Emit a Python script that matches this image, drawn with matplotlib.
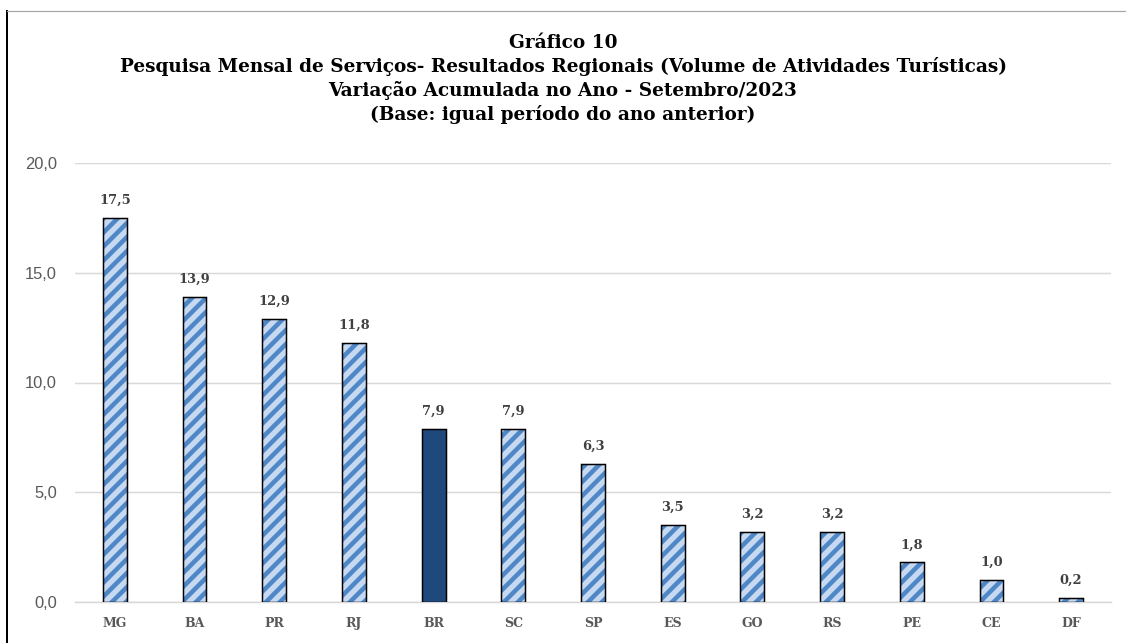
import matplotlib
matplotlib.use("Agg")
import matplotlib.pyplot as plt
from matplotlib.lines import Line2D

# dados do grafico
estados = ["MG", "BA", "PR", "RJ", "BR", "SC", "SP", "ES", "GO", "RS", "PE", "CE", "DF"]
variacao = [17.5, 13.9, 12.9, 11.8, 7.9, 7.9, 6.3, 3.5, 3.2, 3.2, 1.8, 1.0, 0.2]
yticks = [0, 5, 10, 15, 20]

titulo = ("Gráfico 10\n"
          "Pesquisa Mensal de Serviços- Resultados Regionais (Volume de Atividades Turísticas)\n"
          "Variação Acumulada no Ano - Setembro/2023\n"
          "(Base: igual período do ano anterior)")

# dpi 84 para deixar as listras com ~14 px; tamanhos abaixo em pixels
DPI = 84
px = 72 / DPI

plt.rcParams["hatch.linewidth"] = 4.5 * px
serif = ["DejaVu Serif"]

fig = plt.figure(figsize=(1126 / DPI, 643 / DPI), dpi=DPI)
ax = fig.add_axes([75 / 1126, 1 - 602 / 643, 1036 / 1126, 439 / 643])

x = list(range(len(estados)))
for i, (e, v) in enumerate(zip(estados, variacao)):
	if e == "BR":
		ax.bar(i, v, width=0.3, color="#1f497d", edgecolor="black", linewidth=1.5 * px, zorder=3)
	else:
		ax.bar(i, v, width=0.3, color="#c6d9f1", edgecolor="#4f86c6", hatch="//", linewidth=0, zorder=3)
		ax.bar(i, v, width=0.3, fill=False, edgecolor="black", linewidth=1.5 * px, zorder=4)
	ax.text(i, v + 0.5, f"{v:.1f}".replace(".", ","), ha="center", va="bottom",
		fontsize=13 * px, fontweight="bold", color="#404040", family=serif)

ax.set_xlim(-0.5, len(estados) - 0.5)
ax.set_ylim(0, 20)
ax.set_yticks(yticks)
ax.set_yticklabels([f"{t:.1f}".replace(".", ",") for t in yticks], fontsize=16.5 * px,
	color="#595959", family="Liberation Sans")
ax.set_xticks(x)
ax.set_xticklabels(estados, fontsize=12.5 * px, fontweight="bold", color="#595959", family=serif)
ax.tick_params(length=0, axis="both")
ax.tick_params(axis="y", pad=18 * px)
ax.tick_params(axis="x", pad=15 * px)
ax.grid(axis="y", color="#d9d9d9", linewidth=1.5 * px, zorder=0)
for s in ["top", "right", "left"]:
	ax.spines[s].set_visible(False)
ax.spines["bottom"].set_color("#d9d9d9")
ax.spines["bottom"].set_linewidth(1.5 * px)

fig.text(0.5, 1 - 34 / 643, titulo, ha="center", va="top", fontsize=18.5 * px,
	fontweight="bold", family=serif, linespacing=1.34)

# moldura
fig.add_artist(Line2D([7 / 1126, 7 / 1126], [0, 1 - 11 / 643], color="black", linewidth=2 * px))
fig.add_artist(Line2D([7 / 1126, 1], [1 - 11 / 643, 1 - 11 / 643], color="#a6a6a6", linewidth=1.2 * px))

fig.savefig("out.png", dpi=DPI)
